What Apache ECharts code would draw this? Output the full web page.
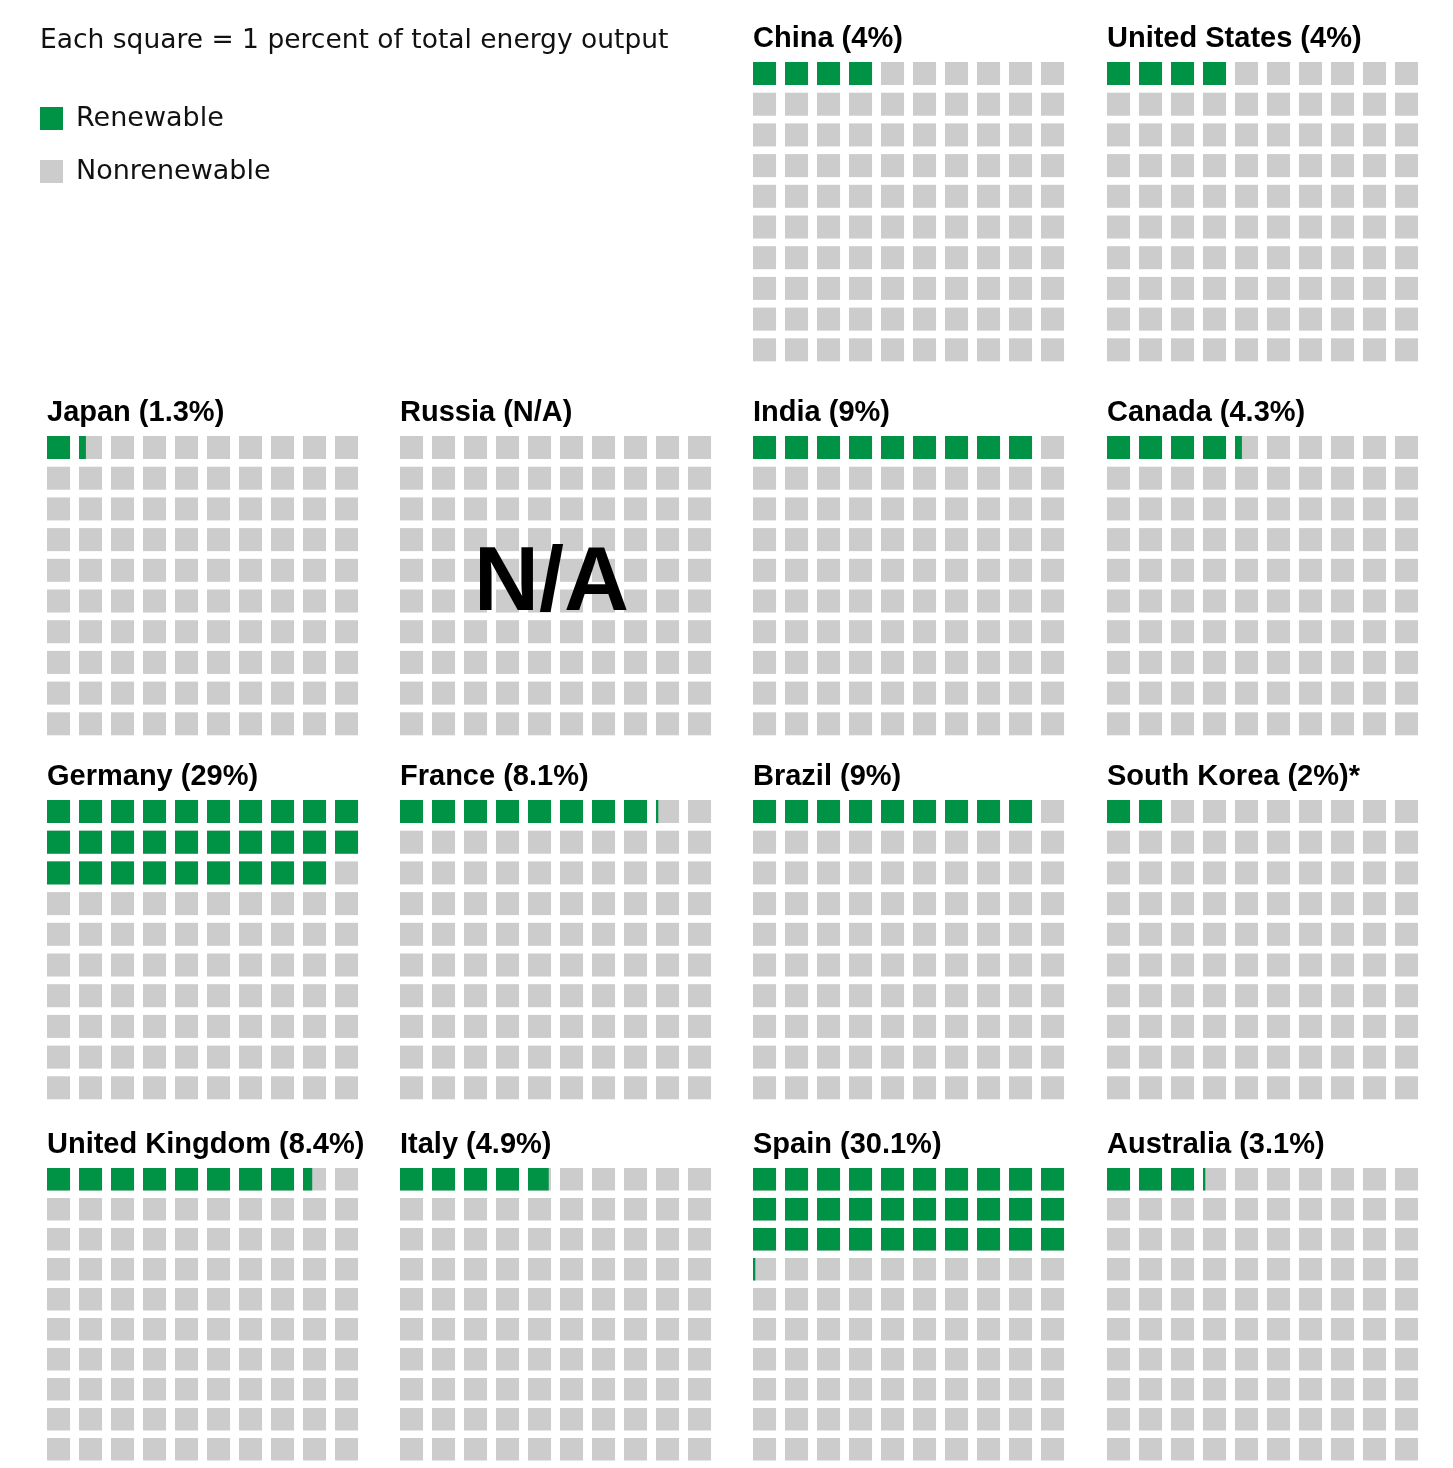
<!DOCTYPE html>
<html>
<head>
<meta charset="utf-8">
<script src="https://cdn.jsdelivr.net/npm/echarts@6/dist/echarts.min.js"></script>
<style>
  html, body { margin: 0; padding: 0; background: #fff; }
  #main { width: 1453px; height: 1468px; }
</style>
</head>
<body>
<div id="main"></div>
<script>
// 数据
var countries = ['China', 'United States', 'Japan', 'Russia', 'India', 'Canada', 'Germany', 'France',
  'Brazil', 'South Korea', 'United Kingdom', 'Italy', 'Spain', 'Australia'];
var renewable = [4, 4, 1.3, null, 9, 4.3, 29, 8.1, 9, 2, 8.4, 4.9, 30.1, 3.1];
var titleLabels = ['China (4%)', 'United States (4%)', 'Japan (1.3%)', 'Russia (N/A)', 'India (9%)',
  'Canada (4.3%)', 'Germany (29%)', 'France (8.1%)', 'Brazil (9%)', 'South Korea (2%)*',
  'United Kingdom (8.4%)', 'Italy (4.9%)', 'Spain (30.1%)', 'Australia (3.1%)'];
var seriesNames = ['Renewable', 'Nonrenewable'];

var GREEN = '#009245';
var GREY = '#cccccc';
var FONT = '"Liberation Sans", Arial, sans-serif';
var FONT_LIGHT = '"DejaVu Sans", sans-serif';

// 面板位置
var colLeft = [47, 400, 753, 1107];
var rowTop = [62, 436, 800, 1168];
var gridW = 320, gridH = 307;

function renderCell(params, api) {
  var p = api.coord([api.value(0), api.value(1)]);
  var s = api.size([1, 1]);
  var w = s[0] * 0.72, h = s[1] * 0.75;
  var f = api.value(2);
  return {
    type: 'rect',
    shape: { x: p[0], y: p[1], width: w * f, height: h },
    style: { fill: api.visual('color') }
  };
}

var grid = [], xAxis = [], yAxis = [], series = [], title = [], graphic = [];

title.push({
  text: 'Each square = 1 percent of total energy output',
  left: 35, top: 23,
  textStyle: { fontFamily: FONT_LIGHT, fontSize: 26.5, fontWeight: 'normal', color: '#111' }
});

countries.forEach(function (name, i) {
  var slot = i + 2;
  var left = colLeft[slot % 4], top = rowTop[Math.floor(slot / 4)];
  grid.push({ left: left, top: top, width: gridW, height: gridH });
  xAxis.push({ gridIndex: i, type: 'value', min: 0, max: 10, show: false });
  yAxis.push({ gridIndex: i, type: 'value', min: 0, max: 10, inverse: true, show: false });
  title.push({
    text: titleLabels[i],
    left: left - 5, top: top - 43,
    textStyle: { fontFamily: FONT, fontSize: 29, fontWeight: 'bold', color: '#000' }
  });

  var grey = [], green = [];
  for (var k = 0; k < 100; k++) {
    var c = k % 10, r = Math.floor(k / 10);
    grey.push([c, r, 1]);
    if (renewable[i] != null) {
      var f = Math.max(0, Math.min(1, renewable[i] - k));
      if (f > 0) green.push([c, r, f]);
    }
  }
  series.push({
    name: seriesNames[1], type: 'custom', xAxisIndex: i, yAxisIndex: i,
    renderItem: renderCell, itemStyle: { color: GREY }, data: grey, silent: true
  });
  series.push({
    name: seriesNames[0], type: 'custom', xAxisIndex: i, yAxisIndex: i,
    renderItem: renderCell, itemStyle: { color: GREEN }, data: green, silent: true
  });

  if (renewable[i] == null) {
    graphic.push({
      type: 'text', left: left + 74, top: top + 104, z: 100,
      style: { text: 'N/A', font: 'bold 90px ' + FONT, fill: '#000' }
    });
  }
});

var option = {
  animation: false,
  title: title,
  legend: {
    orient: 'vertical', left: 35, top: 100,
    itemWidth: 23, itemHeight: 23, itemGap: 26,
    icon: 'rect',
    selectedMode: false,
    data: seriesNames,
    textStyle: { fontFamily: FONT_LIGHT, fontSize: 27, color: '#111', padding: [0, 0, 0, 8] }
  },
  grid: grid,
  xAxis: xAxis,
  yAxis: yAxis,
  series: series,
  graphic: graphic
};

var myChart = echarts.init(document.getElementById('main'));
myChart.setOption(option);
</script>
</body>
</html>
